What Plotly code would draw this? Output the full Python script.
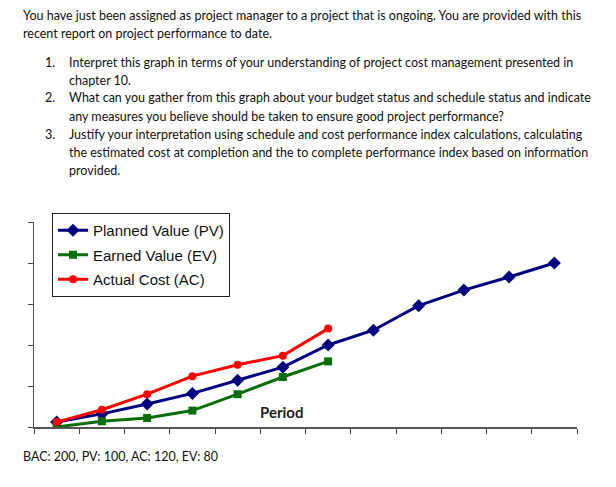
import plotly.graph_objects as go

periods = list(range(1, 13))
pv = [6, 16, 28, 41, 57, 73, 100, 118, 148, 167, 183, 200]
ev = [0, 7, 11, 20, 40, 61, 80]
ac = [6, 21, 40, 62, 76, 87, 120]
y_ticks = [0, 50, 100, 150, 200, 250]
x_ticks = [p - 0.5 for p in periods] + [12.5]

intro_lines = [
    "You have just been assigned as project manager to a project that is ongoing. You are provided with this",
    "recent report on project performance to date.",
]
items = [
    ("1.", ["Interpret this graph in terms of your understanding of project cost management presented in",
            "chapter 10."]),
    ("2.", ["What can you gather from this graph about your budget status and schedule status and indicate",
            "any measures you believe should be taken to ensure good project performance?"]),
    ("3.", ["Justify your interpretation using schedule and cost performance index calculations, calculating",
            "the estimated cost at completion and the to complete performance index based on information",
            "provided."]),
]
footer = "BAC: 200, PV: 100, AC: 120, EV: 80"

# the page adds an 8px body margin, so the figure is drawn 8px smaller and
# all page positions below are converted to figure positions
OFF = 8
W, H = 616 - OFF, 487 - OFF
L, R, T, B = 34, 577, 222, 427          # plot area, page pixels
TXT_FONT = dict(family="Lato, Open Sans, sans-serif", size=12.5, color="#111111")


def px(x):
    return (x - L) / (R - L)


def py(y):
    return (B - y) / (B - T)


fig = go.Figure()
fig.add_trace(go.Scatter(
    x=periods[:len(pv)], y=pv, mode="lines+markers", name="Planned Value (PV)",
    line=dict(color="#000080", width=3), marker=dict(symbol="diamond", size=10, color="#000080"),
    legendgroup="pv"))
fig.add_trace(go.Scatter(
    x=periods[:len(ev)], y=ev, mode="lines+markers", name="Earned Value (EV)",
    line=dict(color="#0A6E0A", width=3), marker=dict(symbol="square", size=8, color="#0A6E0A"),
    legendgroup="ev"))
fig.add_trace(go.Scatter(
    x=periods[:len(ac)], y=ac, mode="lines+markers", name="Actual Cost (AC)",
    line=dict(color="#FF0000", width=3), marker=dict(symbol="circle", size=8, color="#FF0000"),
    legendgroup="ac"))

annotations = []
y0 = 15
for i, line in enumerate(intro_lines):
    annotations.append(dict(x=px(21), y=py(y0 + 18 * i), text=line, xanchor="left", yanchor="middle"))
y = 62
for num, lines in items:
    annotations.append(dict(x=px(43), y=py(y), text=num, xanchor="left", yanchor="middle"))
    for ln in lines:
        annotations.append(dict(x=px(67), y=py(y), text=ln, xanchor="left", yanchor="middle"))
        y += 18
annotations.append(dict(x=px(21), y=py(456), text=footer, xanchor="left", yanchor="middle"))
for a in annotations:
    a.update(xref="paper", yref="paper", showarrow=False, font=TXT_FONT)
annotations.append(dict(x=px(281), y=py(412), xref="paper", yref="paper", showarrow=False,
                        text="<b>Period</b>", font=dict(family="Lato, sans-serif", size=15, color="#222222"),
                        xanchor="center", yanchor="middle"))

fig.update_layout(
    width=W, height=H,
    margin=dict(l=L - OFF, r=616 - R, t=T - OFF, b=487 - B, pad=0),
    paper_bgcolor="white", plot_bgcolor="white",
    showlegend=True,
    legend=dict(x=px(52), y=py(213), xanchor="left", yanchor="top",
                bordercolor="#222222", borderwidth=1, bgcolor="white",
                font=dict(family="Arial, Liberation Sans, sans-serif", size=15, color="#111111"),
                tracegroupgap=2, itemwidth=30),
    annotations=annotations,
    xaxis=dict(range=[0.5, 12.5], tickvals=x_ticks, ticktext=[""] * len(x_ticks),
               ticks="outside", ticklen=5, tickcolor="#444444", tickwidth=1,
               showgrid=False, zeroline=False, showline=True, linecolor="#555555", linewidth=2,
               fixedrange=True),
    yaxis=dict(range=[0, 250], tickvals=y_ticks, ticktext=[""] * len(y_ticks),
               ticks="outside", ticklen=5, tickcolor="#444444", tickwidth=1,
               showgrid=False, zeroline=False, showline=True, linecolor="#555555", linewidth=1,
               fixedrange=True),
)

fig.write_html("out.html")
